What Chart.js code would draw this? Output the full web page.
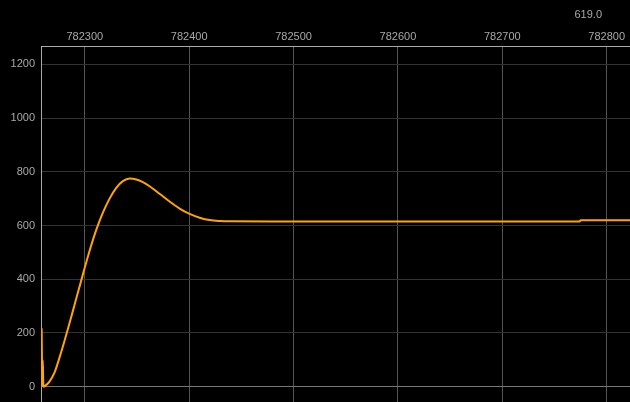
<!DOCTYPE html>
<html>
<head>
<meta charset="utf-8">
<script src="https://cdn.jsdelivr.net/npm/chart.js@4/dist/chart.umd.min.js"></script>
<style>
  html, body { margin: 0; padding: 0; background: #000; overflow: hidden; }
  canvas { display: block; }
</style>
</head>
<body>
<canvas id="c" width="630" height="402"></canvas>
<script>
// Sample positions (x) and values (y)
const xValues = [782258.6, 782259.3, 782259.7, 782260.3, 782262.5, 782266.1, 782270.9, 782275.7,
  782280.5, 782285.3, 782290.1, 782294.9, 782299.7, 782304.5, 782309.3, 782313.2, 782317.3,
  782323.7, 782330.1, 782336.4, 782342.9, 782349.3, 782355.6, 782362.0, 782371.6, 782381.2,
  782390.8, 782400.4, 782410.0, 782419.6, 782429.2, 782438.8, 782500.0, 782600.0, 782700.0,
  782774.0, 782775.0, 782823.0];
const yValues = [217, 3, 99, 0, 5, 19, 52, 108,
  170, 236, 304, 372, 440, 505, 565, 608, 648,
  700, 740, 765, 775, 771, 761, 746, 718, 689,
  663, 643, 629, 620, 616.5, 615.3, 615, 615, 615,
  615, 619, 619];
const xTicks = [782300, 782400, 782500, 782600, 782700, 782800];
const yTicks = [0, 200, 400, 600, 800, 1000, 1200];
const currentLabel = "619.0";

const FONT = { family: "'Liberation Sans', sans-serif", size: 11 };
const TEXT = '#a8a8a8';

const points = xValues.map((x, i) => ({ x, y: yValues[i] }));

const readout = {
  id: 'readout',
  afterDraw(chart) {
    const ctx = chart.ctx;
    ctx.save();
    ctx.font = FONT.size + 'px ' + FONT.family;
    ctx.fillStyle = TEXT;
    ctx.textAlign = 'right';
    ctx.textBaseline = 'middle';
    ctx.fillText(currentLabel, 602, 15);
    ctx.restore();
  }
};

function zeroPad(s) {
  s.paddingTop = 0; s.paddingBottom = 0; s.paddingLeft = 0; s.paddingRight = 0;
}

new Chart(document.getElementById('c'), {
  type: 'line',
  data: {
    datasets: [{
      data: points,
      borderColor: '#ffa500',
      borderWidth: 2,
      pointRadius: 0,
      cubicInterpolationMode: 'monotone',
      fill: false
    }]
  },
  options: {
    responsive: false,
    animation: false,
    layout: { padding: 0, autoPadding: false },
    plugins: { legend: { display: false }, tooltip: { enabled: false } },
    scales: {
      x: {
        type: 'linear',
        position: 'top',
        min: 782258,
        max: 782822.3,
        afterFit: s => { s.height = 46; zeroPad(s); },
        afterBuildTicks: s => { s.ticks = xTicks.map(v => ({ value: v })); },
        ticks: { color: TEXT, font: FONT, padding: 2, maxRotation: 0, callback: v => String(v) },
        grid: { color: '#555', drawTicks: false, lineWidth: 1 },
        border: { color: '#aaa', width: 1 }
      },
      y: {
        type: 'linear',
        min: -57,
        max: 1268,
        afterFit: s => { s.width = 41; zeroPad(s); },
        afterBuildTicks: s => { s.ticks = yTicks.map(v => ({ value: v })); },
        ticks: { color: TEXT, font: FONT, padding: 6, callback: v => String(v) },
        grid: {
          color: c => (c.tick && c.tick.value === 0) ? '#777' : '#333',
          drawTicks: false,
          lineWidth: 1
        },
        border: { color: '#aaa', width: 1 }
      }
    }
  },
  plugins: [readout]
});
</script>
</body>
</html>
